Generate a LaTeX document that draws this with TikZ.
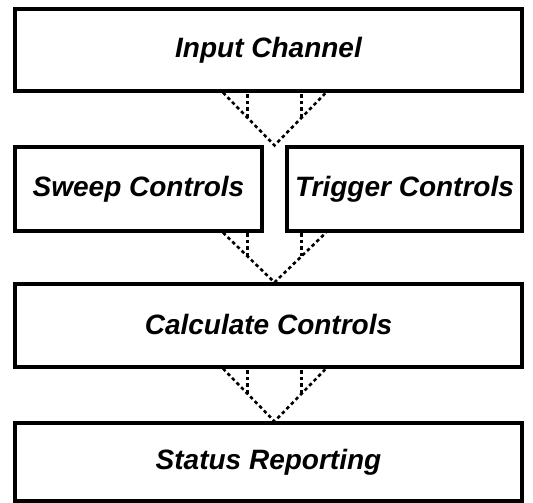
\documentclass[tikz,border=0pt]{standalone}
\usepackage{fontspec}
\setmainfont{Liberation Sans}
\usetikzlibrary{calc}
\tikzset{
  box/.style={draw=black, line width=3.2pt, rectangle, inner sep=0pt,
    font=\fontsize{28}{33}\selectfont\bfseries\itshape},
  conn/.style={draw=black, line width=2.6pt, dash pattern=on 3.5pt off 3pt},
}
\begin{document}
\begin{tikzpicture}[x=1pt,y=-1pt]
\useasboundingbox[fill=white] (0,0) rectangle (533,503);
\node[box, minimum width=507pt, minimum height=82pt] (input) at (268.5,50) {\raisebox{3pt}{Input Channel}};
\node[box, minimum width=247pt, minimum height=84pt] (sweep) at (138.5,189) {\raisebox{5pt}{Sweep Controls}};
\node[box, minimum width=235pt, minimum height=84pt] (trigger) at (404.5,189) {\raisebox{5pt}{Trigger Controls}};
\node[box, minimum width=507pt, minimum height=83pt] (calc) at (268.5,325.5) {\raisebox{2pt}{Calculate Controls}};
\node[box, minimum width=507pt, minimum height=78pt] (status) at (268.5,462) {\raisebox{4pt}{Status Reporting}};
% apex points
\coordinate (a1) at ($(sweep.north east)!0.5!(trigger.north west)$);
\coordinate (a2) at (a1 |- calc.north);
\coordinate (a3) at (a1 |- status.north);
% funnel tops
\path (a1 |- input.south) ++(-51.5,0) coordinate (l1);
\path (a1 |- input.south) ++(51.5,0) coordinate (r1);
\path (a2 |- sweep.south) ++(-51.5,0) coordinate (l2);
\path (a2 |- sweep.south) ++(51.5,0) coordinate (r2);
\path (a3 |- calc.south) ++(-51.5,0) coordinate (l3);
\path (a3 |- calc.south) ++(51.5,0) coordinate (r3);
\foreach \i in {1,2,3}{
  \draw[conn] (l\i) -- (a\i) -- (r\i);
  \coordinate (ml\i) at ($(l\i)!0.47!(a\i)$);
  \coordinate (mr\i) at ($(r\i)!0.47!(a\i)$);
  \draw[conn] (ml\i) -- (ml\i |- l\i);
  \draw[conn] (mr\i) -- (mr\i |- r\i);
}
\end{tikzpicture}
\end{document}
